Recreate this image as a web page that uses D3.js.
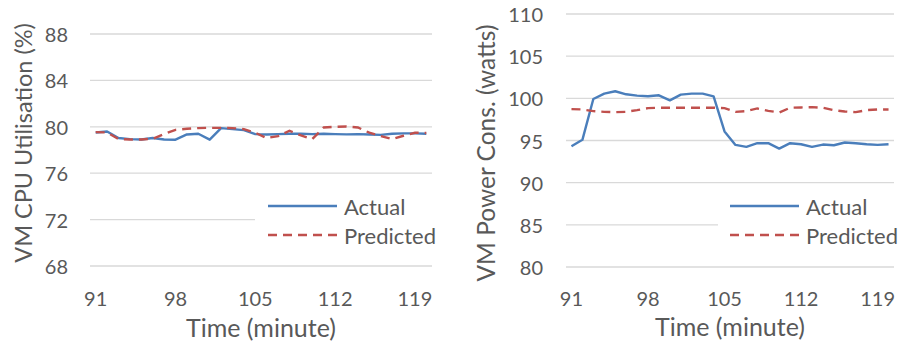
<!DOCTYPE html>
<html>
<head>
<meta charset="utf-8">
<script src="https://cdn.jsdelivr.net/npm/d3@7"></script>
<style>
  body { margin: 0; background: #fff; }
  text { font-family: Lato, "Open Sans", sans-serif; fill: #595959; }
</style>
</head>
<body>
<div class="svg-container"></div>
<script>
// minutes 91..120
const minutes = d3.range(91, 121);
const tickMinutes = [91, 98, 105, 112, 119];

const cpuActual = [79.51, 79.6, 79.03, 78.94, 78.91, 79.03, 78.91, 78.89, 79.34, 79.4,
    78.89, 79.89, 79.8, 79.71, 79.37, 79.34, 79.37, 79.4, 79.4, 79.37,
    79.4, 79.37, 79.35, 79.37, 79.34, 79.3, 79.4, 79.43, 79.43, 79.4];
const cpuPredicted = [79.54, 79.51, 78.94, 78.91, 78.91, 78.97, 79.37, 79.74, 79.83, 79.89,
    79.91, 79.91, 79.89, 79.8, 79.49, 79.03, 79.2, 79.66, 79.26, 78.94,
    79.94, 80.0, 80.03, 79.94, 79.49, 79.2, 78.94, 79.23, 79.49, 79.47];
const cpuTicks = [68, 72, 76, 80, 84, 88];

const powerActual = [94.32, 95.08, 99.92, 100.56, 100.84, 100.48, 100.32, 100.24, 100.36, 99.76,
    100.44, 100.56, 100.56, 100.24, 96.08, 94.48, 94.24, 94.68, 94.68, 94.04,
    94.68, 94.56, 94.24, 94.52, 94.44, 94.76, 94.68, 94.56, 94.48, 94.56];
const powerPredicted = [98.72, 98.68, 98.48, 98.4, 98.36, 98.4, 98.6, 98.84, 98.88, 98.88,
    98.88, 98.88, 98.88, 98.88, 98.84, 98.4, 98.48, 98.8, 98.52, 98.32,
    98.88, 98.92, 98.96, 98.88, 98.6, 98.44, 98.36, 98.6, 98.68, 98.68];
const powerTicks = [80, 85, 90, 95, 100, 105, 110];

const seriesNames = ['Actual', 'Predicted'];

const svg = d3.select('.svg-container').append('svg')
    .attr('width', 901)
    .attr('height', 344);

const blue = '#4a7ebb';
const red = '#c0504d';

function drawPanel(p) {
    const g = svg.append('g');
    const x = d3.scaleBand().domain(minutes).range([p.left, p.right]);
    const y = d3.scaleLinear().domain([p.ticks[0], p.ticks[p.ticks.length - 1]]).range([p.bottom, p.top]);

    // gridlines
    g.append('g').selectAll('line').data(p.ticks).join('line')
        .attr('x1', p.left).attr('x2', p.right)
        .attr('y1', d => y(d)).attr('y2', d => y(d))
        .attr('stroke', '#d9d9d9').attr('stroke-width', 1.3);

    // y tick labels
    g.append('g').selectAll('text').data(p.ticks).join('text')
        .attr('x', p.yLabelX).attr('y', d => y(d))
        .attr('text-anchor', 'end').attr('dominant-baseline', 'central')
        .attr('font-size', '20px')
        .text(d => d);

    // x tick labels
    g.append('g').selectAll('text').data(tickMinutes).join('text')
        .attr('x', d => x(d) + x.bandwidth() / 2).attr('y', p.xLabelY)
        .attr('text-anchor', 'middle').attr('dominant-baseline', 'central')
        .attr('font-size', '20px')
        .text(d => d);

    // axis titles
    g.append('text')
        .attr('x', p.xTitleX).attr('y', p.xTitleY)
        .attr('text-anchor', 'middle').attr('dominant-baseline', 'central')
        .attr('font-size', '25px')
        .text('Time (minute)');
    g.append('text')
        .attr('transform', `translate(${p.yTitleX},${p.yTitleY}) rotate(-90)`)
        .attr('text-anchor', 'middle').attr('dominant-baseline', 'central')
        .attr('font-size', p.yTitleSize)
        .text(p.yTitle);

    const line = d3.line()
        .x((d, i) => x(minutes[i]) + x.bandwidth() / 2)
        .y(d => y(d));

    g.append('path').datum(p.actual)
        .attr('d', line).attr('fill', 'none')
        .attr('stroke', blue).attr('stroke-width', 2.4)
        .attr('stroke-linejoin', 'round');
    g.append('path').datum(p.predicted)
        .attr('d', line).attr('fill', 'none')
        .attr('stroke', red).attr('stroke-width', 2.4)
        .attr('stroke-dasharray', '9,6');

    // legend
    const lg = g.append('g');
    lg.append('rect')
        .attr('x', p.legendX).attr('y', 188)
        .attr('width', p.right + 8 - p.legendX).attr('height', 62)
        .attr('fill', '#fff');
    seriesNames.forEach((name, i) => {
        const ly = 206 + i * 29;
        lg.append('line')
            .attr('x1', p.legendLineX).attr('x2', p.legendLineX + 69)
            .attr('y1', ly).attr('y2', ly)
            .attr('stroke', i === 0 ? blue : red).attr('stroke-width', 2.4)
            .attr('stroke-dasharray', i === 0 ? null : '9,6');
        lg.append('text')
            .attr('x', p.legendLineX + 76).attr('y', ly)
            .attr('dominant-baseline', 'central')
            .attr('font-size', '22px')
            .text(name);
    });
}

drawPanel({
    left: 90, right: 432, top: 34, bottom: 266,
    ticks: cpuTicks, actual: cpuActual, predicted: cpuPredicted,
    yLabelX: 68, xLabelY: 298,
    xTitleX: 261, xTitleY: 327,
    yTitleX: 23, yTitleY: 143, yTitle: 'VM CPU Utilisation (%)', yTitleSize: '23.5px',
    legendX: 255, legendLineX: 268
});

drawPanel({
    left: 566, right: 894, top: 14, bottom: 267,
    ticks: powerTicks, actual: powerActual, predicted: powerPredicted,
    yLabelX: 543, xLabelY: 298,
    xTitleX: 730, xTitleY: 326,
    yTitleX: 485, yTitleY: 153, yTitle: 'VM Power Cons. (watts)', yTitleSize: '24.5px',
    legendX: 718, legendLineX: 730
});
</script>
</body>
</html>
